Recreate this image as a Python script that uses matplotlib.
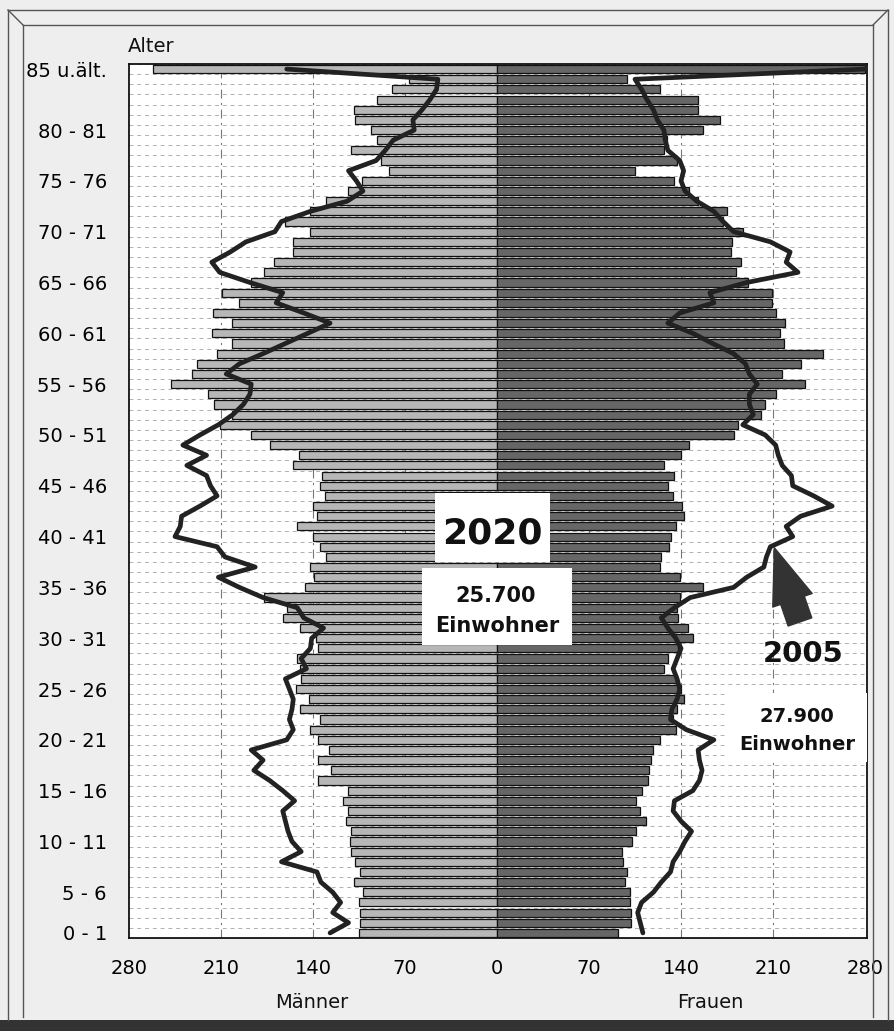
import numpy as np
import matplotlib.pyplot as plt
from matplotlib.patches import Rectangle
from matplotlib.lines import Line2D

# age categories: index 0 = "0 - 1" ... index 85 = "85 u.ält."
ages = np.arange(86)
tick_pos = [0, 4, 9, 14, 19, 24, 29, 34, 39, 44, 49, 54, 59, 64, 69, 74, 79, 85]
tick_labels = ["0 - 1", "5 - 6", "10 - 11", "15 - 16", "20 - 21", "25 - 26",
               "30 - 31", "35 - 36", "40 - 41", "45 - 46", "50 - 51", "55 - 56",
               "60 - 61", "65 - 66", "70 - 71", "75 - 76", "80 - 81", "85 u.ält."]

# 2020 projection (bars)
men_2020 = [105, 104, 104, 105, 102, 109, 104, 108, 111, 112,
            111, 115, 113, 117, 113, 136, 126, 136, 128, 136,
            142, 135, 150, 143, 153, 149, 150, 152, 136, 138,
            150, 163, 160, 177, 146, 139, 142, 130, 135, 140,
            152, 137, 140, 131, 135, 133, 155, 151, 173, 187,
            211, 202, 215, 220, 248, 232, 228, 213, 202, 217,
            202, 216, 196, 209, 187, 177, 170, 155, 155, 142,
            161, 142, 130, 113, 103, 82, 88, 111, 91, 96,
            108, 109, 91, 80, 67, 262]
women_2020 = [92, 102, 102, 101, 101, 97, 99, 96, 95, 103,
              106, 113, 109, 106, 110, 115, 116, 117, 119, 124,
              136, 134, 137, 142, 140, 137, 127, 130, 138, 149,
              145, 138, 137, 139, 157, 139, 124, 125, 131, 132,
              136, 142, 141, 134, 130, 135, 127, 140, 146, 180,
              183, 201, 204, 212, 234, 217, 231, 248, 218, 215,
              219, 212, 209, 209, 191, 182, 186, 178, 179, 187,
              172, 175, 153, 146, 135, 105, 137, 127, 129, 157,
              170, 153, 153, 124, 99, 280]

# 2005 population (outline)
men_2005 = [127, 113, 125, 119, 125, 134, 137, 164, 149, 156,
            159, 161, 163, 154, 163, 173, 185, 178, 187, 160,
            155, 158, 156, 155, 158, 161, 145, 149, 142, 141,
            132, 147, 152, 178, 196, 212, 184, 207, 213, 245,
            241, 240, 226, 213, 218, 221, 236, 221, 239, 226,
            212, 201, 193, 188, 187, 206, 196, 178, 161, 144,
            127, 147, 168, 163, 188, 211, 217, 203, 191, 169,
            164, 142, 114, 102, 107, 113, 92, 85, 79, 63,
            64, 57, 51, 46, 45, 160]
women_2005 = [111, 109, 107, 110, 119, 125, 132, 134, 139, 143,
              148, 140, 134, 135, 149, 154, 156, 154, 153, 165,
              144, 132, 133, 137, 139, 137, 134, 137, 140, 136,
              130, 125, 135, 147, 180, 190, 203, 205, 208, 225,
              220, 231, 255, 241, 225, 224, 217, 214, 212, 204,
              187, 195, 192, 192, 198, 192, 189, 180, 164, 149,
              130, 139, 165, 162, 190, 229, 220, 223, 208, 180,
              172, 165, 152, 143, 140, 142, 139, 130, 128, 127,
              122, 119, 114, 110, 105, 280]

xticks = [-280, -210, -140, -70, 0, 70, 140, 210, 280]

W, H = 894, 1031


def fx(px):
    return px / W


def fy(py):
    return 1 - py / H


fig = plt.figure(figsize=(W / 100, H / 100), dpi=100, facecolor="#eeeeee")
plt.rcParams["font.family"] = ["DejaVu Sans"]

ax = fig.add_axes([fx(129), fy(938), fx(867) - fx(129), fy(64) - fy(938)])
ax.set_facecolor("white")

ax.barh(ages, -np.array(men_2020), height=0.8, color="#b7b7b7",
        edgecolor="#111111", linewidth=0.9, zorder=3)
ax.barh(ages, women_2020, height=0.8, color="#666666",
        edgecolor="#111111", linewidth=0.9, zorder=3)

ax.plot(-np.array(men_2005), ages, color="#222222", lw=3.4,
        solid_joinstyle="round", solid_capstyle="round", zorder=5)
ax.plot(women_2005, ages, color="#222222", lw=3.4,
        solid_joinstyle="round", solid_capstyle="round", zorder=5)

# grid
for b in np.arange(-0.5, 86, 1.0):
    ax.axhline(b, color="#b0b0b0", lw=0.7, ls=(0, (4, 4)), zorder=1)
for v in [-210, -140, -70, 70, 140, 210]:
    ax.axvline(v, color="#777777", lw=0.8, ls=(0, (8, 4, 2, 4)), zorder=1)

ax.set_xlim(-280, 281.5)
ax.set_ylim(-0.5, 85.5)
ax.set_xticks(xticks)
ax.set_xticklabels([str(abs(v)) for v in xticks], fontsize=14)
ax.set_yticks(tick_pos)
ax.set_yticklabels(tick_labels, fontsize=14)
ax.tick_params(length=0)
ax.tick_params(axis="y", pad=16)
ax.tick_params(axis="x", pad=15)
for s in ax.spines.values():
    s.set_color("#111111")
    s.set_linewidth(1.3)

# arrow pointing to the 2005 outline
ax.annotate("", xy=(211, 37.9), xytext=(230.5, 30.6),
            arrowprops=dict(arrowstyle="simple,head_length=2.0,head_width=1.5,tail_width=0.9",
                            mutation_scale=20, fc="#333333", ec="#333333",
                            shrinkA=0, shrinkB=0),
            zorder=6)

# annotation boxes (figure pixels)
def box(x0, y0, x1, y1):
    fig.add_artist(Rectangle((fx(x0), fy(y1)), fx(x1) - fx(x0), fy(y0) - fy(y1),
                             transform=fig.transFigure, fc="white", ec="none", zorder=3))


box(435, 493, 550, 562)
box(422, 568, 572, 645)
box(727, 693, 867, 762)

fig.text(fx(492), fy(543), "2020", fontsize=26, fontweight="bold", ha="center",
         va="baseline", color="#111111", zorder=4)
fig.text(fx(496), fy(602), "25.700", fontsize=15, fontweight="bold", ha="center",
         va="baseline", color="#111111", zorder=4)
fig.text(fx(497), fy(632), "Einwohner", fontsize=15, fontweight="bold", ha="center",
         va="baseline", color="#111111", zorder=4)
fig.text(fx(803), fy(662), "2005", fontsize=21, fontweight="bold", ha="center",
         va="baseline", color="#111111", zorder=4)
fig.text(fx(797), fy(722), "27.900", fontsize=14, fontweight="bold", ha="center",
         va="baseline", color="#111111", zorder=4)
fig.text(fx(797), fy(750), "Einwohner", fontsize=14, fontweight="bold", ha="center",
         va="baseline", color="#111111", zorder=4)

fig.text(fx(128), fy(52), "Alter", fontsize=14, ha="left", va="baseline", color="#111111")
fig.text(fx(312), fy(1008), "Männer", fontsize=14, ha="center", va="baseline", color="#111111")
fig.text(fx(710), fy(1008), "Frauen", fontsize=14, ha="center", va="baseline", color="#111111")

# frame with bevel
frame = [((8, 10), (888, 10)), ((8, 10), (8, 1020)), ((888, 10), (888, 1020)),
         ((23, 25), (873, 25)), ((23, 25), (23, 1017)), ((873, 25), (873, 1017)),
         ((8, 10), (23, 25)), ((888, 10), (873, 25))]
for (x0, y0), (x1, y1) in frame:
    fig.add_artist(Line2D([fx(x0), fx(x1)], [fy(y0), fy(y1)], transform=fig.transFigure,
                          color="#555555", lw=1.0))
fig.add_artist(Rectangle((0, 0), 1, fy(1020), transform=fig.transFigure,
                         fc="#333333", ec="none"))

fig.savefig("out.png", dpi=100, facecolor=fig.get_facecolor())
